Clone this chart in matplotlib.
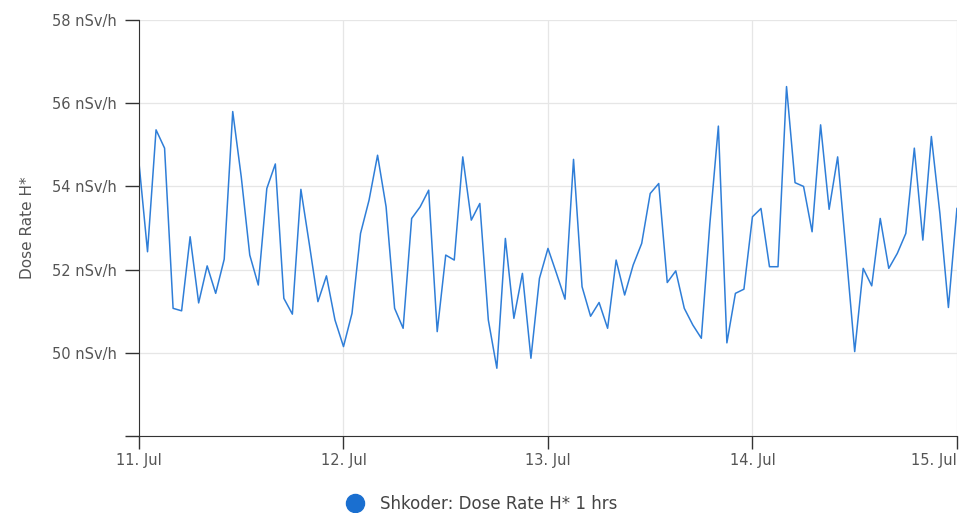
import numpy as np
import pandas as pd
import matplotlib
matplotlib.use("Agg")
import matplotlib.pyplot as plt
import matplotlib.dates as mdates
from matplotlib.lines import Line2D

# hourly dose rate readings, 11 Jul 00:00 .. 15 Jul 00:00
dose = [
    54.56, 52.43, 55.36, 54.92, 51.07, 51.01, 52.79, 51.20, 52.09, 51.43,
    52.25, 55.80, 54.23, 52.35, 51.63, 53.95, 54.54, 51.31, 50.93, 53.93,
    52.60, 51.23, 51.85, 50.79, 50.15, 50.95, 52.87, 53.67, 54.75, 53.51,
    51.07, 50.59, 53.23, 53.51, 53.91, 50.51, 52.35, 52.23, 54.71, 53.19,
    53.59, 50.79, 49.63, 52.75, 50.83, 51.91, 49.87, 51.79, 52.51, 51.91,
    51.29, 54.65, 51.59, 50.88, 51.21, 50.59, 52.23, 51.39, 52.11, 52.63,
    53.83, 54.07, 51.69, 51.97, 51.07, 50.67, 50.35, 53.10, 55.45, 50.24,
    51.43, 51.53, 53.27, 53.47, 52.07, 52.07, 56.40, 54.09, 54.00, 52.91,
    55.48, 53.45, 54.71, 52.40, 50.03, 52.03, 51.61, 53.23, 52.03, 52.39,
    52.87, 54.92, 52.71, 55.20, 53.35, 51.09, 53.47,
]
times = pd.date_range("2023-07-11 00:00", periods=len(dose), freq="h")
day_ticks = pd.date_range("2023-07-11", "2023-07-15", freq="D")
y_ticks = [48, 50, 52, 54, 56, 58]
y_labels = ["", "50 nSv/h", "52 nSv/h", "54 nSv/h", "56 nSv/h", "58 nSv/h"]
series_name = "Shkoder: Dose Rate H* 1 hrs"

line_color = "#2f7ed8"
text_color = "#555555"

fig = plt.figure(figsize=(9.6, 5.13), dpi=100)
ax = fig.add_axes([0.1448, 0.150, 0.852, 0.811])

ax.plot(times, dose, color=line_color, linewidth=1.1)

ax.set_xlim(times[0], times[-1])
ax.set_ylim(48, 58)
ax.set_yticks(y_ticks)
ax.set_yticklabels(y_labels)
ax.set_xticks(day_ticks)
ax.xaxis.set_major_formatter(mdates.DateFormatter("%-d. %b"))

ax.grid(True, color="#e6e6e6", linewidth=0.9)
ax.set_axisbelow(True)
for side in ["top", "right"]:
    ax.spines[side].set_visible(False)
ax.spines["left"].set_color("#333333")
ax.spines["bottom"].set_color("#333333")

ax.tick_params(axis="y", direction="out", length=10, width=1, color="#333333",
               labelsize=10.5, labelcolor=text_color, pad=6)
ax.tick_params(axis="x", direction="out", length=9, width=1, color="#333333",
               labelsize=10.5, labelcolor=text_color, pad=3)
xlabels = ax.get_xticklabels()
xlabels[-1].set_horizontalalignment("right")

ax.set_ylabel("Dose Rate H*", fontsize=11, color=text_color, labelpad=12)

handle = Line2D([], [], marker="o", linestyle="none", color="#1a6fd0",
                markersize=13)
fig.legend([handle], [series_name], loc="center", bbox_to_anchor=(0.498, 0.017),
           frameon=False, fontsize=12, labelcolor="#444444", handletextpad=0.5)

fig.savefig("out.png", dpi=100)
